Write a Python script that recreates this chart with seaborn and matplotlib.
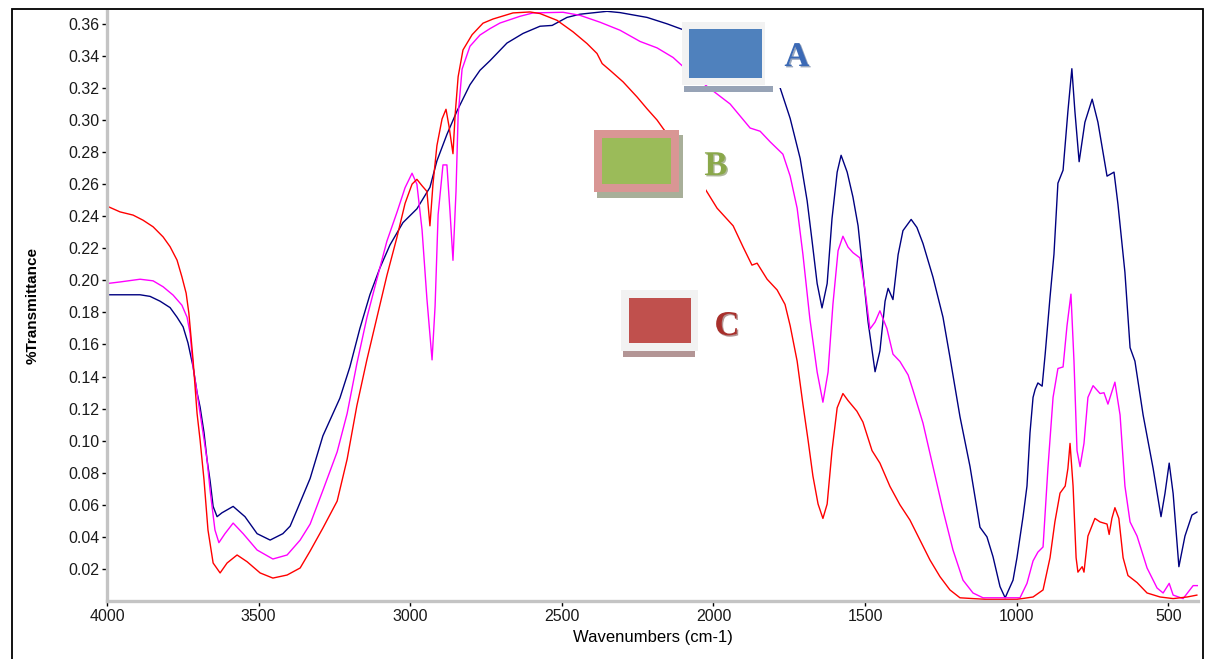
import numpy as np
import pandas as pd
import matplotlib
matplotlib.use("Agg")
import matplotlib.pyplot as plt
import seaborn as sns
from matplotlib.patches import Rectangle
from matplotlib.ticker import MultipleLocator, FormatStrFormatter
import matplotlib.patheffects as pe

# ---- FTIR spectra: wavenumber (cm-1) and %Transmittance ----
wn_a = [4000, 3891, 3858, 3825, 3792, 3769, 3749, 3733, 3716, 3703, 3693, 3680, 3670, 3660,
        3650, 3637, 3621, 3584, 3545, 3505, 3462, 3420, 3396, 3373, 3330, 3288, 3232, 3199,
        3166, 3133, 3100, 3067, 3024, 2978, 2935, 2912, 2879, 2846, 2803, 2770, 2737, 2681,
        2628, 2572, 2532, 2483, 2440, 2351, 2308, 2219, 2153, 2104, 2044, 1945, 1846, 1780,
        1747, 1714, 1691, 1675, 1658, 1642, 1625, 1609, 1592, 1579, 1559, 1540, 1523, 1507,
        1490, 1467, 1451, 1434, 1424, 1408, 1391, 1375, 1348, 1329, 1309, 1276, 1243, 1220,
        1187, 1154, 1121, 1098, 1078, 1055, 1038, 1012, 999, 979, 966, 956, 946, 939, 930,
        916, 906, 890, 877, 864, 847, 831, 818, 808, 794, 775, 751, 732, 702, 679, 666, 643,
        626, 610, 583, 550, 524, 511, 497, 484, 465, 445, 422, 405]
t_a = [0.191, 0.191, 0.190, 0.187, 0.183, 0.177, 0.171, 0.161, 0.146, 0.130, 0.121, 0.105,
       0.088, 0.075, 0.059, 0.0526, 0.055, 0.059, 0.0526, 0.042, 0.038, 0.042, 0.0467, 0.057,
       0.0765, 0.103, 0.1265, 0.146, 0.170, 0.191, 0.2077, 0.222, 0.236, 0.2446, 0.258,
       0.2745, 0.291, 0.3055, 0.322, 0.331, 0.337, 0.348, 0.354, 0.3585, 0.359, 0.364, 0.366,
       0.3678, 0.367, 0.364, 0.360, 0.3566, 0.352, 0.345, 0.333, 0.320, 0.301, 0.276, 0.2496,
       0.225, 0.198, 0.1828, 0.198, 0.2385, 0.2675, 0.278, 0.2675, 0.252, 0.234, 0.205,
       0.174, 0.143, 0.156, 0.187, 0.195, 0.188, 0.216, 0.231, 0.238, 0.233, 0.223, 0.202,
       0.177, 0.152, 0.115, 0.084, 0.046, 0.040, 0.0276, 0.009, 0.002, 0.013, 0.027, 0.0526,
       0.0717, 0.105, 0.127, 0.132, 0.136, 0.134, 0.154, 0.1895, 0.2163, 0.2606, 0.2687,
       0.3055, 0.332, 0.3055, 0.274, 0.2986, 0.313, 0.2986, 0.265, 0.2675, 0.2475, 0.205,
       0.158, 0.1496, 0.116, 0.0827, 0.0526, 0.067, 0.086, 0.067, 0.0214, 0.0405, 0.0536,
       0.0555]

wn_b = [4000, 3957, 3891, 3848, 3815, 3782, 3753, 3736, 3726, 3716, 3703, 3693, 3683, 3670,
        3660, 3644, 3631, 3611, 3584, 3551, 3505, 3453, 3406, 3363, 3330, 3288, 3241, 3208,
        3176, 3143, 3110, 3077, 3044, 3017, 2994, 2978, 2961, 2945, 2928, 2918, 2908, 2892,
        2879, 2869, 2859, 2849, 2842, 2829, 2803, 2770, 2737, 2704, 2638, 2595, 2496, 2440,
        2374, 2308, 2242, 2186, 2133, 2104, 2061, 2021, 1945, 1879, 1846, 1813, 1771, 1747,
        1724, 1705, 1682, 1658, 1639, 1622, 1606, 1589, 1573, 1556, 1540, 1517, 1500, 1484,
        1467, 1451, 1428, 1408, 1385, 1358, 1342, 1309, 1276, 1243, 1210, 1177, 1144, 1111,
        989, 966, 946, 930, 913, 897, 880, 864, 847, 834, 821, 811, 801, 791, 778, 765, 748,
        725, 712, 699, 676, 659, 643, 626, 603, 570, 537, 517, 497, 484, 451, 418, 402]
t_b = [0.198, 0.199, 0.2007, 0.1997, 0.196, 0.1908, 0.1845, 0.177, 0.167, 0.146, 0.1296,
       0.117, 0.1047, 0.088, 0.069, 0.0443, 0.0364, 0.042, 0.0486, 0.042, 0.0318, 0.0262,
       0.0287, 0.038, 0.048, 0.069, 0.093, 0.117, 0.148, 0.1767, 0.2007, 0.2244, 0.2423,
       0.2578, 0.2668, 0.260, 0.2315, 0.1886, 0.1504, 0.184, 0.241, 0.272, 0.272, 0.2434,
       0.2125, 0.2555, 0.303, 0.3317, 0.346, 0.353, 0.357, 0.3605, 0.3647, 0.3668, 0.3672,
       0.3653, 0.361, 0.356, 0.349, 0.345, 0.339, 0.334, 0.327, 0.321, 0.310, 0.295, 0.293,
       0.2864, 0.2787, 0.265, 0.245, 0.2163, 0.176, 0.1428, 0.124, 0.1428, 0.185, 0.2185,
       0.2275, 0.2207, 0.2173, 0.214, 0.194, 0.1696, 0.174, 0.181, 0.170, 0.154, 0.1494,
       0.141, 0.1315, 0.111, 0.0837, 0.0567, 0.0318, 0.013, 0.005, 0.002, 0.002, 0.011,
       0.025, 0.0305, 0.0337, 0.0827, 0.127, 0.145, 0.146, 0.1717, 0.1914, 0.1496, 0.0938,
       0.0838, 0.0983, 0.127, 0.1343, 0.1294, 0.1299, 0.1228, 0.1365, 0.116, 0.0717, 0.0493,
       0.0405, 0.0206, 0.0081, 0.005, 0.011, 0.0037, 0.0015, 0.0096, 0.0096]

wn_c = [4000, 3957, 3914, 3881, 3848, 3815, 3792, 3769, 3753, 3739, 3730, 3716, 3703, 3693,
        3680, 3667, 3650, 3627, 3604, 3571, 3538, 3495, 3453, 3406, 3363, 3330, 3288, 3241,
        3208, 3176, 3143, 3110, 3077, 3044, 3017, 2994, 2978, 2961, 2945, 2935, 2925, 2912,
        2895, 2882, 2872, 2859, 2852, 2842, 2826, 2796, 2760, 2727, 2661, 2605, 2572, 2516,
        2463, 2417, 2384, 2367, 2341, 2298, 2252, 2219, 2186, 2166, 2110, 2094, 2024, 1988,
        1935, 1902, 1873, 1856, 1823, 1790, 1764, 1747, 1724, 1705, 1688, 1672, 1655, 1639,
        1625, 1609, 1592, 1573, 1556, 1527, 1507, 1477, 1451, 1418, 1385, 1352, 1319, 1286,
        1253, 1220, 1187, 1100, 1000, 946, 913, 890, 874, 857, 840, 831, 824, 814, 804, 798,
        784, 778, 765, 742, 725, 702, 695, 686, 676, 663, 649, 633, 603, 570, 527, 484, 438,
        405]
t_c = [0.2463, 0.2427, 0.2407, 0.2375, 0.2334, 0.2271, 0.221, 0.2126, 0.2022, 0.192, 0.1795,
       0.150, 0.117, 0.1004, 0.0754, 0.0443, 0.0237, 0.0175, 0.0237, 0.0287, 0.0245, 0.0175,
       0.0143, 0.0162, 0.0206, 0.0312, 0.0455, 0.0623, 0.0885, 0.1218, 0.1504, 0.1767, 0.203,
       0.2267, 0.248, 0.260, 0.263, 0.259, 0.2555, 0.234, 0.260, 0.284, 0.3007, 0.3067, 0.296,
       0.279, 0.303, 0.327, 0.3437, 0.3532, 0.3604, 0.363, 0.3668, 0.3674, 0.3664, 0.3622,
       0.355, 0.3477, 0.3415, 0.3352, 0.331, 0.3238, 0.3144, 0.307, 0.300, 0.2947, 0.281,
       0.276, 0.256, 0.245, 0.234, 0.2207, 0.2095, 0.2107, 0.2007, 0.194, 0.185, 0.1717,
       0.1496, 0.1228, 0.1004, 0.078, 0.0605, 0.0515, 0.0605, 0.0938, 0.1205, 0.1294, 0.125,
       0.1184, 0.1116, 0.0938, 0.086, 0.0715, 0.060, 0.0505, 0.038, 0.0256, 0.0152, 0.0069,
       0.002, 0.001, 0.001, 0.0025, 0.0069, 0.027, 0.0493, 0.0673, 0.0717, 0.0827, 0.0983,
       0.0717, 0.027, 0.018, 0.0214, 0.018, 0.0405, 0.0515, 0.0493, 0.048, 0.0415, 0.0515,
       0.0582, 0.0515, 0.027, 0.0159, 0.0115, 0.005, 0.0025, 0.0015, 0.0025, 0.0037]

samples = ["A", "B", "C"]
line_colors = {"A": "#000080", "B": "#FF00FF", "C": "#FF0000"}

df = pd.concat([
    pd.DataFrame({"wavenumber": wn_a, "T": t_a, "sample": "A"}),
    pd.DataFrame({"wavenumber": wn_b, "T": t_b, "sample": "B"}),
    pd.DataFrame({"wavenumber": wn_c, "T": t_c, "sample": "C"}),
], ignore_index=True)

sns.set_theme(style="white")
plt.rcParams["font.family"] = ["Liberation Sans", "DejaVu Sans"]

W, H = 1211, 659
fig = plt.figure(figsize=(W / 100, H / 100), dpi=100)
fig.patch.set_facecolor("white")
AX_L, AX_R, AX_T, AX_B = 107, 1198, 11, 601
ax = fig.add_axes([AX_L / W, 1 - AX_B / H, (AX_R - AX_L) / W, (AX_B - AX_T) / H])

sns.lineplot(data=df, x="wavenumber", y="T", hue="sample", hue_order=samples,
             palette=line_colors, estimator=None, sort=False, legend=False,
             linewidth=1.0, ax=ax, zorder=2)

ax.set_xlim(4000, 402)
ax.set_ylim(0, 0.368)
ax.xaxis.set_major_locator(MultipleLocator(500))
ax.xaxis.set_minor_locator(MultipleLocator(100))
ax.set_yticks(np.arange(0.02, 0.3601, 0.02))
ax.yaxis.set_major_formatter(FormatStrFormatter("%.2f"))
ax.yaxis.set_minor_locator(MultipleLocator(0.002))

for side in ("top", "right"):
    ax.spines[side].set_visible(False)
for side in ("left", "bottom"):
    ax.spines[side].set_color("#C4C4C4")
    ax.spines[side].set_linewidth(2.4)

ax.tick_params(which="major", direction="out", length=3.5, width=1.0, color="black",
               labelsize=11.5, labelcolor="#1a1a1a", left=True, bottom=True, pad=2)
ax.tick_params(which="minor", direction="inout", length=1.6, width=1.0, color="black",
               left=True, bottom=True)

ax.set_xlabel("Wavenumbers (cm-1)", fontsize=12, color="black")
ax.set_ylabel("%Transmittance", fontsize=11, fontweight="bold", color="black")


def axx(px):
    return (px - AX_L) / (AX_R - AX_L)


def axy(py):
    return (AX_B - py) / (AX_B - AX_T)


ax.xaxis.set_label_coords(0.5, axy(630))
ax.yaxis.set_label_coords(axx(40), axy(305))


def block(x0, y0, x1, y1, color, z):
    ax.add_patch(Rectangle((axx(x0), axy(y1)), axx(x1) - axx(x0), axy(y0) - axy(y1),
                           transform=ax.transAxes, facecolor=color, edgecolor="none",
                           clip_on=False, zorder=z))


# key A
block(760, 15, 781, 88, "white", 3)
block(684, 86, 773, 92, "#97A3B6", 3.5)
block(682, 22, 765, 85, "#F2F2F2", 4)
block(689, 29, 762, 78, "#4F81BD", 4.5)
# key B
block(683, 140, 706, 194, "white", 3)
block(597, 135, 683, 198, "#A8AF99", 3.5)
block(594, 130, 679, 192, "#D99694", 4)
block(602, 138, 671, 184, "#9BBB59", 4.5)
# key C
block(623, 351, 695, 357, "#B39595", 3.5)
block(621, 290, 698, 351, "#F2F2F2", 4)
block(629, 298, 691, 343, "#C0504D", 4.5)

letter_style = dict(fontsize=25, fontweight="bold", family=["Liberation Serif", "DejaVu Serif"],
                    ha="center", va="baseline", transform=ax.transAxes, zorder=6)
ax.text(axx(797), axy(66), "A", color="#3B69B5",
        path_effects=[pe.withSimplePatchShadow(offset=(1, -1), shadow_rgbFace="#1E3C6E", alpha=0.45)],
        **letter_style)
ax.text(axx(716), axy(175), "B", color="#8AA84A",
        path_effects=[pe.withSimplePatchShadow(offset=(1, -1), shadow_rgbFace="#4E6323", alpha=0.45)],
        **letter_style)
ax.text(axx(727), axy(335), "C", color="#A8302C",
        path_effects=[pe.withSimplePatchShadow(offset=(1, -1), shadow_rgbFace="#5A1412", alpha=0.45)],
        **letter_style)

# outer frame around the figure
fig.add_artist(Rectangle((12 / W, -0.1), (1203 - 12) / W, 1.1 - 9 / H,
                         transform=fig.transFigure, fill=False, edgecolor="black",
                         linewidth=1.3))

fig.savefig("out.png", dpi=100, facecolor="white")
